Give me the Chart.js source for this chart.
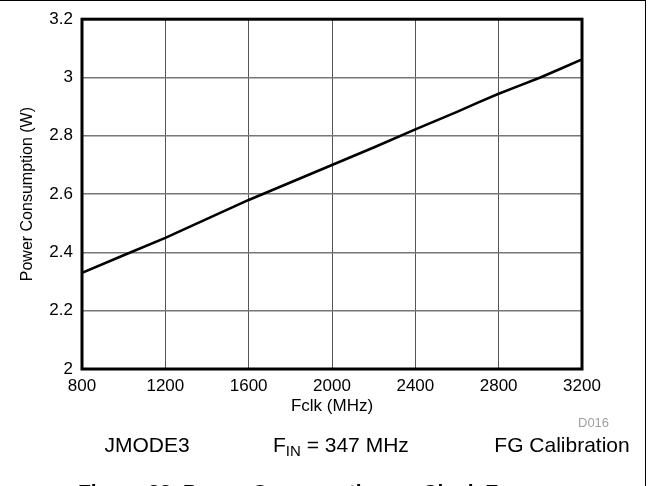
<!DOCTYPE html>
<html>
<head>
<meta charset="utf-8">
<script src="https://cdn.jsdelivr.net/npm/chart.js@4"></script>
<style>
  html, body { margin: 0; padding: 0; background: #fff; }
  body { width: 653px; height: 486px; overflow: hidden; position: relative; font-family: "Liberation Sans", Arial, sans-serif; }
  #frame { position: absolute; left: -1px; top: 0; width: 647px; height: 520px; border-top: 1px solid #000; border-right: 1px solid #000; box-sizing: border-box; }
  canvas { position: absolute; left: 0; top: 0; }
  .note { position: absolute; line-height: 1; white-space: nowrap; color: #000; }
  .c { transform: translateX(-50%); }
  sub { font-size: 15px; vertical-align: -4px; line-height: 0; }
</style>
</head>
<body>
<div id="frame"></div>
<canvas id="chart" width="653" height="486"></canvas>

<div class="note" style="left:578px; top:416px; font-size:13px; color:#a0a0a0;">D016</div>
<div class="note c" style="left:147px; top:434px; font-size:21px;">JMODE3</div>
<div class="note" style="left:273px; top:434px; font-size:21px;">F<sub>IN</sub> = 347 MHz</div>
<div class="note c" style="left:562px; top:434px; font-size:21px;">FG Calibration</div>
<div class="note" style="left:78px; top:481px; font-size:21px; font-weight:bold;">Figure 23. Power Consumption vs Clock Frequency</div>

<script>
  const fclk = [800, 1000, 1200, 1400, 1600, 1800, 2000, 2200, 2400, 2600, 2700, 2800, 2900, 3000, 3100, 3200];
  const power = [2.33, 2.39, 2.45, 2.515, 2.58, 2.64, 2.70, 2.76, 2.822, 2.882, 2.914, 2.944, 2.972, 3.0, 3.031, 3.062];

  const xTicks = [800, 1200, 1600, 2000, 2400, 2800, 3200];
  const xTickLabels = ['800', '1200', '1600', '2000', '2400', '2800', '3200'];
  const yTicks = [2, 2.2, 2.4, 2.6, 2.8, 3, 3.2];
  const yTickLabels = ['2', '2.2', '2.4', '2.6', '2.8', '3', '3.2'];

  const font = 'Liberation Sans, Arial, sans-serif';

  // thick black box round the plot area
  const plotFrame = {
    id: 'plotFrame',
    afterDatasetsDraw(chart) {
      const a = chart.chartArea;
      const c = chart.ctx;
      c.save();
      c.strokeStyle = '#000';
      c.lineWidth = 3;
      c.strokeRect(a.left, a.top, a.right - a.left, a.bottom - a.top);
      c.restore();
    }
  };

  new Chart(document.getElementById('chart'), {
    type: 'line',
    data: {
      datasets: [{
        data: fclk.map((f, i) => ({ x: f, y: power[i] })),
        borderColor: '#000',
        borderWidth: 2.6,
        pointRadius: 0,
        tension: 0,
        fill: false
      }]
    },
    options: {
      responsive: false,
      animation: false,
      layout: { padding: { left: 0, top: 16, right: 71, bottom: 0 } },
      plugins: { legend: { display: false }, tooltip: { enabled: false } },
      scales: {
        x: {
          type: 'linear',
          min: 800,
          max: 3200,
          afterBuildTicks: s => { s.ticks = xTicks.map(v => ({ value: v })); },
          afterFit: s => { s.height = 117; },
          ticks: {
            color: '#000',
            padding: 7,
            maxRotation: 0,
            font: { family: font, size: 17 },
            callback: (v, i) => xTickLabels[i]
          },
          grid: { color: '#555', lineWidth: 1, drawTicks: false },
          border: { display: false },
          title: {
            display: true,
            text: 'Fclk (MHz)',
            color: '#000',
            padding: { top: 0, bottom: 69 },
            font: { family: font, size: 17 }
          }
        },
        y: {
          min: 2,
          max: 3.2,
          afterBuildTicks: s => { s.ticks = yTicks.map(v => ({ value: v })); },
          afterFit: s => { s.width = 82; },
          ticks: {
            color: '#000',
            padding: 9,
            font: { family: font, size: 17 },
            callback: (v, i) => yTickLabels[i]
          },
          grid: { color: '#777', lineWidth: 1.5, drawTicks: false },
          border: { display: false },
          title: {
            display: true,
            text: 'Power Consumption (W)',
            color: '#000',
            padding: { top: 18, bottom: 0 },
            font: { family: font, size: 16 }
          }
        }
      }
    },
    plugins: [plotFrame]
  });
</script>
</body>
</html>
